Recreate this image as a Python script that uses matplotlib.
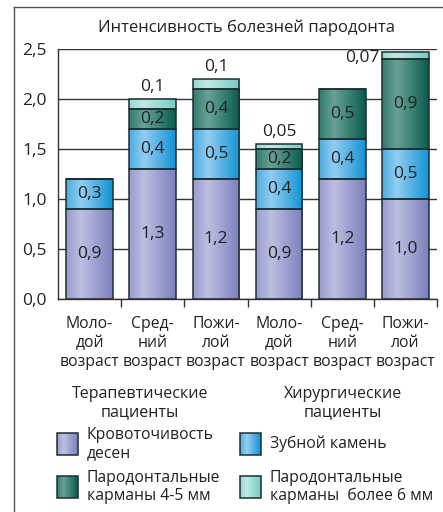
import numpy as np
import matplotlib
matplotlib.use("Agg")
import matplotlib.pyplot as plt
from matplotlib.colors import LinearSegmentedColormap
from matplotlib.patches import Rectangle
from matplotlib.lines import Line2D

plt.rcParams['font.family'] = ['Open Sans', 'DejaVu Sans']

# data
groups = ["Моло-\nдой\nвозраст", "Сред-\nний\nвозраст", "Пожи-\nлой\nвозраст",
          "Моло-\nдой\nвозраст", "Сред-\nний\nвозраст", "Пожи-\nлой\nвозраст"]
bleeding = [0.9, 1.3, 1.2, 0.9, 1.2, 1.0]
calculus = [0.3, 0.4, 0.5, 0.4, 0.4, 0.5]
pockets45 = [0.0, 0.2, 0.4, 0.2, 0.5, 0.9]
pockets6 = [0.0, 0.1, 0.1, 0.05, 0.0, 0.07]
series_names = ["Кровоточивость\nдесен", "Зубной камень",
                "Пародонтальные\nкарманы 4-5 мм", "Пародонтальные\nкарманы  более 6 мм"]
# (dark, light) for the gradient fill
shades = [("#7c80bc", "#bcbfe2"),
          ("#1293d4", "#93cdf1"),
          ("#0a5b4e", "#67a294"),
          ("#78cbc3", "#c0e9e5")]
edge = "#1c2e34"
txt = "#222222"

W, H = 443, 512
fig = plt.figure(figsize=(W / 100, H / 100), dpi=100)

def fx(px):
    return px / W

def fy(py):
    return 1 - py / H

# outer frame (left and top only)
fig.add_artist(Line2D([fx(14), fx(14)], [fy(7), 0], color="#555555", lw=1.0))
fig.add_artist(Line2D([fx(14), 1], [fy(7), fy(7)], color="#555555", lw=1.0))

ax = fig.add_axes([fx(58), fy(299), fx(437) - fx(58), (299 - 49) / H])

t = np.linspace(0, 1, 80)
profile = np.where(t < 0.32, 0.45 + 0.55 * t / 0.32, 1 - (t - 0.32) / 0.68)


def gradient(axis, x0, y0, w, h, dark, light, z):
    cm = LinearSegmentedColormap.from_list("g", [dark, light])
    axis.imshow(profile[None, :], cmap=cm, vmin=0, vmax=1, aspect="auto",
                extent=[x0, x0 + w, y0, y0 + h], zorder=z, interpolation="bilinear")


x = np.arange(len(groups))
series = [bleeding, calculus, pockets45, pockets6]
bottom = np.zeros(len(groups))
bw = 0.74
for k, vals in enumerate(series):
    vals = np.array(vals)
    bars = ax.bar(x, vals, bw, bottom=bottom, facecolor="none",
                  edgecolor=edge, linewidth=1.1, zorder=3)
    for i, p in enumerate(bars):
        if vals[i] <= 0:
            continue
        gradient(ax, p.get_x(), p.get_y(), p.get_width(), p.get_height(),
                 shades[k][0], shades[k][1], 2)
        if k < 3:
            ax.text(x[i], bottom[i] + vals[i] / 2, f"{vals[i]:.1f}".replace(".", ","),
                    ha="center", va="center", fontsize=12.5, color=txt, zorder=4)
    bottom = bottom + vals

# small top segments labelled above the bars
tops = bottom
for i, v in enumerate(pockets6):
    if v <= 0:
        continue
    lab = ("%g" % v).replace(".", ",")
    if i == len(groups) - 1:
        ax.text(x[i] - bw / 2 - 0.04, tops[i] - 0.06, lab, ha="right", va="center",
                fontsize=12.5, color=txt, zorder=4)
    else:
        ax.text(x[i], tops[i] + 0.04, lab, ha="center", va="bottom",
                fontsize=12.5, color=txt, zorder=4)

ax.set_xlim(-0.5, 5.5)
ax.set_ylim(0, 2.5)
ax.set_yticks(np.arange(0, 2.51, 0.5))
ax.set_yticklabels([f"{v:.1f}".replace(".", ",") for v in np.arange(0, 2.51, 0.5)])
ax.yaxis.grid(True, color="#333333", lw=1.0, zorder=0)
ax.set_axisbelow(True)
ax.tick_params(axis="y", length=0, pad=8, labelsize=12.5, labelcolor=txt)
ax.set_xticks(x)
ax.set_xticklabels(groups, linespacing=1.25)
ax.tick_params(axis="x", which="major", length=0, pad=12.5, labelsize=11.3, labelcolor=txt)
ax.set_xticks(np.arange(0.5, 5.6, 1), minor=True)
ax.tick_params(axis="x", which="minor", length=6, width=1, color="#333333", direction="out")
for s in ["top", "right"]:
    ax.spines[s].set_visible(False)
for s in ["left", "bottom"]:
    ax.spines[s].set_color("#333333")
    ax.spines[s].set_linewidth(1.0)

# title
fig.text(fx(247), fy(28), "Интенсивность болезней пародонта", ha="center", va="center",
         fontsize=12, color=txt)

# group headings
fig.text(fx(140), fy(403), "Терапевтические\nпациенты", ha="center", va="center",
         fontsize=11.5, color=txt, linespacing=1.2)
fig.text(fx(343), fy(403), "Хирургические\nпациенты", ha="center", va="center",
         fontsize=11.5, color=txt, linespacing=1.2)

# legend
lax = fig.add_axes([0, 0, 1, 1], zorder=5)
lax.set_xlim(0, W)
lax.set_ylim(H, 0)
lax.axis("off")
spots = [(57, 433), (240, 433), (57, 476), (240, 476)]
for k, (sx, sy) in enumerate(spots):
    lax.imshow(profile[None, :], cmap=LinearSegmentedColormap.from_list("g", shades[k]),
               vmin=0, vmax=1, aspect="auto", extent=[sx, sx + 21, sy + 22, sy],
               interpolation="bilinear", zorder=1)
    lax.add_patch(Rectangle((sx, sy), 21, 22, facecolor="none", edgecolor=edge, lw=1.1, zorder=2))
    lax.text(sx + 30, sy + 11, series_names[k], ha="left", va="center", fontsize=11.3,
             color=txt, linespacing=1.15)
lax.set_xlim(0, W)
lax.set_ylim(H, 0)

fig.savefig("out.png", dpi=100)
